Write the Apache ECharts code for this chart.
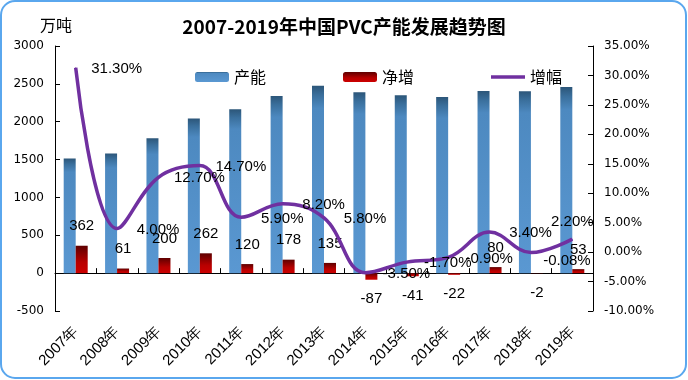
<!DOCTYPE html>
<html><head><meta charset="utf-8">
<script src="https://cdn.jsdelivr.net/npm/echarts@6/dist/echarts.min.js"></script>
<style>html,body{margin:0;padding:0;background:#fff}#c{width:688px;height:380px}</style>
</head><body><div id="c"></div>
<script>
const categories = ['2007年','2008年','2009年','2010年','2011年','2012年','2013年','2014年','2015年','2016年','2017年','2018年','2019年'];
const capacity = [1515, 1581, 1781, 2043, 2163, 2341, 2476, 2389, 2348, 2326, 2406, 2404, 2457];
const netIncrease = [362, 61, 200, 262, 120, 178, 135, -87, -41, -22, 80, -2, 53];
const growth = [31.30, 4.00, 12.70, 14.70, 5.90, 8.20, 5.80, -3.50, -1.70, -0.90, 3.40, -0.08, 2.20];
const leftTicks = {min: -500, max: 3000, interval: 500};
const rightTicks = {min: -10, max: 35, interval: 5};

const labelFont = 'Liberation Sans';
const netData = netIncrease.map(v => ({
  value: v,
  label: {position: v < 0 ? 'bottom' : 'top'}
}));
const growthData = growth.map((v, i) => {
  let off = [41, 1];
  if (i === growth.length - 1) off = [0, -17];
  else if (i === growth.length - 2) off = [36, 8];
  return {value: v, label: {offset: off}};
});

const chart = echarts.init(document.getElementById('c'));
chart.setOption({
  animation: false,
  backgroundColor: '#fff',
  title: {
    text: '2007-2019年中国PVC产能发展趋势图',
    left: 'center', top: 12,
    textStyle: {fontFamily: 'Noto Sans CJK SC', fontWeight: 'bold', fontSize: 19, color: '#000'}
  },
  graphic: [
    {type: 'rect', shape: {x: 1, y: 1, width: 685, height: 377, r: 14},
     style: {fill: 'none', stroke: '#5aa7ee', lineWidth: 2}, z: 100},
    {type: 'text', left: 40, top: 17,
     style: {text: '万吨', font: '16px "Noto Sans CJK SC"', fill: '#000'}}
  ],
  legend: {
    left: 190, top: 64,
    itemWidth: 34, itemHeight: 10, itemGap: 77,
    textStyle: {fontFamily: 'Noto Sans CJK SC', fontSize: 16, color: '#000'},
    data: ['产能', '净增',
      {name: '增幅', icon: 'path://M0,0 L34,0 L34,3.5 L0,3.5 Z', symbolKeepAspect: true,
       itemStyle: {color: '#7030a0'}}]
  },
  grid: {left: 55, right: 95, top: 46, bottom: 69, containLabel: false, outerBoundsMode: 'none'},
  xAxis: {
    type: 'category', data: categories,
    axisLine: {onZero: true, lineStyle: {color: '#000', width: 1}},
    axisTick: {show: true, inside: true, length: 5, lineStyle: {color: '#000'}},
    axisLabel: {rotate: 45, margin: 18, fontFamily: labelFont, fontSize: 15, color: '#000'},
    splitLine: {show: false}
  },
  yAxis: [
    {type: 'value', min: leftTicks.min, max: leftTicks.max, interval: leftTicks.interval,
     axisLine: {show: true, lineStyle: {color: '#000'}},
     axisTick: {show: true, inside: true, length: 5, lineStyle: {color: '#000'}},
     axisLabel: {fontFamily: 'DejaVu Sans', fontSize: 12, color: '#000', margin: 11,
                 formatter: v => String(v)},
     splitLine: {show: false}},
    {type: 'value', min: rightTicks.min, max: rightTicks.max, interval: rightTicks.interval,
     alignTicks: false,
     axisLine: {show: true, lineStyle: {color: '#000'}},
     axisTick: {show: true, inside: true, length: 5, lineStyle: {color: '#000'}},
     axisLabel: {fontFamily: 'DejaVu Sans', fontSize: 12, color: '#000', margin: 11,
                 formatter: v => v.toFixed(2) + '%'},
     splitLine: {show: false}}
  ],
  series: [
    {name: '产能', type: 'bar', data: capacity, barWidth: 12, barGap: '0%',
     itemStyle: {color: new echarts.graphic.LinearGradient(0, 0, 0, 1, [
       {offset: 0, color: '#2c5679'}, {offset: 0.05, color: '#3a6f9c'},
       {offset: 0.12, color: '#4d89c0'}, {offset: 1, color: '#5a98d2'}])}},
    {name: '净增', type: 'bar', data: netData, barWidth: 12,
     label: {show: true, distance: 12, fontFamily: labelFont, fontSize: 15, color: '#000'},
     itemStyle: {color: new echarts.graphic.LinearGradient(0, 0, 0, 1, [
       {offset: 0, color: '#5e0000'}, {offset: 0.6, color: '#b80000'}, {offset: 1, color: '#cc0000'}])}},
    {name: '增幅', type: 'line', yAxisIndex: 1, data: growthData, smooth: 0.4,
     symbol: 'circle', symbolSize: 1, showSymbol: true,
     lineStyle: {color: '#7030a0', width: 3.5},
     itemStyle: {color: '#7030a0'},
     label: {show: true, position: 'inside', fontFamily: labelFont, fontSize: 15, color: '#000',
             formatter: p => p.value.toFixed(2) + '%'},
     z: 5}
  ]
});
</script></body></html>
